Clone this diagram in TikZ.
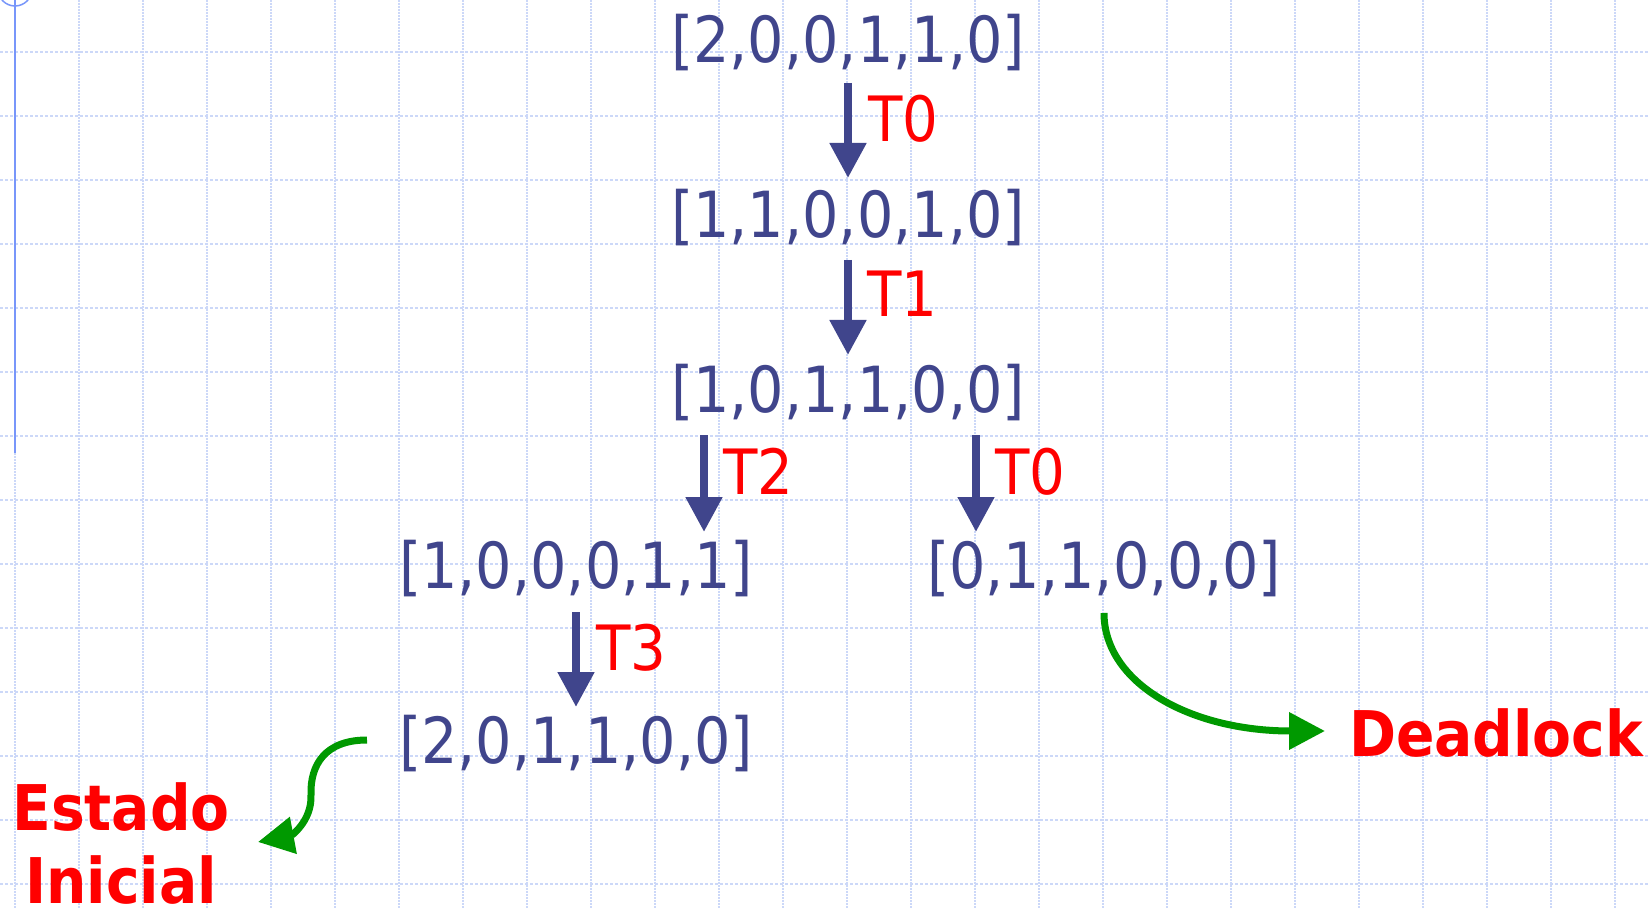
\documentclass[tikz,border=0pt]{standalone}
\usepackage{fontspec}
\setmainfont{DejaVu Sans Condensed}[BoldFont={DejaVu Sans Condensed Bold}]
\usetikzlibrary{arrows.meta,calc}
\definecolor{navy}{RGB}{64,69,140}
\definecolor{gridc}{RGB}{204,216,248}
\definecolor{rulec}{RGB}{120,150,250}
\definecolor{grn}{RGB}{0,153,0}
\begin{document}
\begin{tikzpicture}[x=1pt,y=-1pt,
  state/.style={inner sep=0pt, text=navy, font=\fontsize{63.6}{75}\selectfont, anchor=base},
  tlabel/.style={inner sep=0pt, text=red, font=\fontsize{62.5}{75}\selectfont, anchor=base west},
  callout/.style={inner sep=0pt, text=red, font=\fontsize{63}{75}\selectfont\bfseries},
  flow/.style={draw=navy, line width=8pt, -{Triangle[length=35pt,width=35pt]}},
  pointer/.style={draw=grn, line width=7pt, -{Triangle[length=36pt,width=36pt]}},
  hgrid/.style={draw=gridc, line width=2.5pt, dash pattern=on 3pt off 2pt},
  vgrid/.style={draw=gridc, line width=2.5pt, dash pattern=on 2pt off 1pt},
]
\useasboundingbox (0,0) rectangle (1650,909);
\clip (0,0) rectangle (1650,909);
\fill[white] (0,0) rectangle (1650,909);
% grid
\foreach \i in {0,...,25} \draw[vgrid] (15+64*\i,0) -- (15+64*\i,909);
\foreach \j in {1,...,14} \draw[hgrid] (0,-12+64*\j) -- (1650,-12+64*\j);
% left rule and ring
\draw[rulec, line width=2pt] (15,0) -- (15,453);
\draw[rulec, line width=1.5pt] (15,-11) circle[radius=17];
% states
\node[state] (r1) at (848,63) {[2,0,0,1,1,0]};
\node[state] (r2) at (848,238) {[1,1,0,0,1,0]};
\node[state] (r3) at (848,413) {[1,0,1,1,0,0]};
\node[state] (r4a) at (576,588) {[1,0,0,0,1,1]};
\node[state] (r4b) at (1104,588) {[0,1,1,0,0,0]};
\node[state] (r5) at (576,763) {[2,0,1,1,0,0]};
% transitions
\coordinate (a1s) at ($(r1.base)+(0,20)$);
\coordinate (a1e) at ($(r2.base)+(0,-60)$);
\draw[flow] (a1s) -- (a1e);
\node[tlabel] (l1) at ($(r1.base)+(20,79)$) {T0};
\coordinate (a2s) at ($(r2.base)+(0,22)$);
\coordinate (a2e) at ($(r3.base)+(0,-58)$);
\draw[flow] (a2s) -- (a2e);
\node[tlabel] (l2) at ($(r2.base)+(19,79)$) {T1};
\coordinate (a3s) at ($(r3.base)+(-144,22)$);
\coordinate (a3e) at ($(r3.base)+(-144,119)$);
\draw[flow] (a3s) -- (a3e);
\node[tlabel] (l3) at ($(r3.base)+(-125,81)$) {T2};
\coordinate (a4s) at ($(r3.base)+(128,22)$);
\coordinate (a4e) at ($(r3.base)+(128,119)$);
\draw[flow] (a4s) -- (a4e);
\node[tlabel] (l4) at ($(r3.base)+(147,81)$) {T0};
\coordinate (a5s) at ($(r4a.base)+(0,24)$);
\coordinate (a5e) at ($(r5.base)+(0,-56)$);
\draw[flow] (a5s) -- (a5e);
\node[tlabel] (l5) at ($(r4a.base)+(20,82)$) {T3};
% callouts
\node[callout, anchor=base west] (dl) at (1349,756) {Deadlock};
\node[callout, anchor=base] (est) at (121,830) {Estado};
\node[callout, anchor=base] (ini) at (121,903) {Inicial};
\coordinate (g1s) at ($(r4b.base)+(0,25)$);
\coordinate (g1e) at ($(dl.base west)+(-24,-25)$);
\draw[pointer] (g1s) .. controls ($(g1s)+(0,70)$) and ($(g1e)+(-135,0)$) .. (g1e);
\coordinate (g2s) at ($(r5.base)+(-209,-23)$);
\coordinate (g2m) at (311,795);
\coordinate (g2e) at ($(est.base)+(137,12)$);
\draw[pointer] (g2s) .. controls (325,740) and (310,765) .. (g2m) .. controls (312,822) and (290,836) .. (g2e);
\end{tikzpicture}
\end{document}
